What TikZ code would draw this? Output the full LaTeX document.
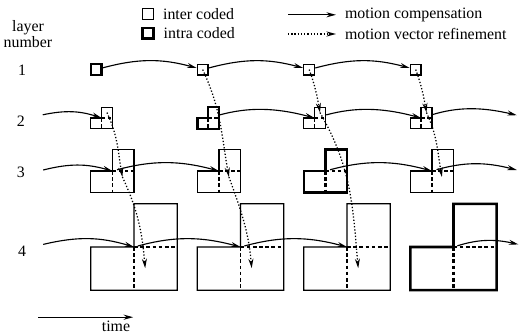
\documentclass[tikz,border=0pt]{standalone}
\usepackage{fontspec}
\setmainfont{Liberation Serif}
\usetikzlibrary{calc, positioning, arrows.meta}

\tikzset{
  block/.style={line width=0.9pt},
  intra/.style={line width=1.8pt},
  quarter/.style={line width=0.9pt, dash pattern=on 2.6pt off 1.8pt},
  sq/.style={draw, line width=0.9pt, minimum size=0.27cm, inner sep=0pt},
  mc/.style={-{Stealth[length=6.8pt,width=3.6pt]}, line width=0.8pt},
  mv/.style={-{Stealth[length=6.8pt,width=3.6pt]}, line width=0.9pt, dash pattern=on 0.9pt off 1.4pt},
  lbl/.style={font=\fontsize{11.3}{12}\selectfont, inner sep=0pt}
}

% L-shaped block: #2 = inner corner, #3 = quarter size
\newcommand{\lblock}[3][]{%
  \draw[block,#1] (#2) ++(-#3,0) -- ++(0,-#3) -- ++(2*#3,0) -- ++(0,2*#3)
    -- ++(-#3,0) -- ++(0,-#3) -- cycle;
  \draw[quarter,#1] (#2) -- ++(0,-#3) (#2) -- ++(#3,0);
}

\begin{document}
\begin{tikzpicture}
\useasboundingbox (0,0) rectangle (13.025,-8.375);

% Legend
\node[sq] (interkey) at (3.7,-0.35) {};
\node[lbl, right=0.22cm of interkey] (intertext) {inter coded};
\node[sq, intra] (intrakey) at (3.7,-0.83) {};
\node[lbl, right=0.22cm of intrakey] (intratext) {intra coded};
\coordinate (mcA) at (7.2,-0.37); \coordinate (mcB) at (8.4,-0.37);
\draw[mc] (mcA) -- (mcB);
\node[lbl, right=0.22cm of mcB] (mctext) {motion compensation};
\coordinate (mvA) at (7.2,-0.85); \coordinate (mvB) at (8.4,-0.85);
\draw[mv] (mvA) -- (mvB);
\node[lbl, right=0.22cm of mvB] (mvtext) {motion vector refinement};

% Layer numbers
\node[lbl, align=center, font=\fontsize{11.3}{8.8}\selectfont] (layerlbl) at (0.7,-0.85) {layer\\number};
\node[lbl] (n1) at (0.55,-1.75) {1};
\node[lbl] (n2) at (0.52,-3.03) {2};
\node[lbl] (n3) at (0.52,-4.30) {3};
\node[lbl] (n4) at (0.55,-6.27) {4};

% Layer 1
\node[sq, intra] (l1c1) at (2.405,-1.74) {};
\node[sq] (l1c2) at (5.0675,-1.74) {};
\node[sq] (l1c3) at (7.73,-1.74) {};
\node[sq] (l1c4) at (10.3925,-1.74) {};

% Layer 2 (inner corners)
\coordinate (l2c1) at (2.54,-2.95);
\coordinate (l2c2) at (5.2025,-2.95);
\coordinate (l2c3) at (7.865,-2.95);
\coordinate (l2c4) at (10.5275,-2.95);
\lblock{l2c1}{0.27}
\lblock[intra]{l2c2}{0.27}
\lblock{l2c3}{0.27}
\lblock{l2c4}{0.27}

% Layer 3
\coordinate (l3c1) at (2.81,-4.275);
\coordinate (l3c2) at (5.4725,-4.275);
\coordinate (l3c3) at (8.135,-4.275);
\coordinate (l3c4) at (10.7975,-4.275);
\lblock{l3c1}{0.54}
\lblock{l3c2}{0.54}
\lblock[intra]{l3c3}{0.54}
\lblock{l3c4}{0.54}

% Layer 4
\coordinate (l4c1) at (3.35,-6.175);
\coordinate (l4c2) at (6.0125,-6.175);
\coordinate (l4c3) at (8.675,-6.175);
\coordinate (l4c4) at (11.3375,-6.175);
\lblock{l4c1}{1.08}
\lblock{l4c2}{1.08}
\lblock{l4c3}{1.08}
\lblock[intra]{l4c4}{1.08}

% Motion compensation
\draw[mc] (l1c1) to[bend left=15] (l1c2);
\draw[mc] (l1c2) to[bend left=15] (l1c3);
\draw[mc] (l1c3) to[bend left=15] (l1c4);

\coordinate (in2) at (1.07,-2.87);
\coordinate (out2) at (12.92,-2.88);
\draw[mc] (in2) to[bend left=15] (l2c1);
\draw[mc, shorten <=0.3cm] (l2c2) to[bend left=15] (l2c3);
\draw[mc, shorten <=0.3cm] (l2c3) to[bend left=15] (l2c4);
\draw[mc, shorten <=0.3cm] (l2c4) to[bend left=15] (out2);

\coordinate (in3) at (1.08,-4.25);
\coordinate (out3) at (12.92,-4.25);
\draw[mc] (in3) to[bend left=15] (l3c1);
\draw[mc, shorten <=0.12cm] (l3c1) to[bend left=15] (l3c2);
\draw[mc, shorten <=0.12cm] (l3c3) to[bend left=15] (l3c4);
\draw[mc, shorten <=0.12cm] (l3c4) to[bend left=15] (out3);

\coordinate (in4) at (1.08,-6.11);
\coordinate (out4) at (12.96,-6.11);
\draw[mc] (in4) to[bend left=15] (l4c1);
\draw[mc, shorten <=0.1cm] (l4c1) to[bend left=15] (l4c2);
\draw[mc, shorten <=0.1cm] (l4c2) to[bend left=15] (l4c3);
\draw[mc, shorten <=0.1cm] (l4c4) to[bend left=15] (out4);

% Motion vector refinement
\coordinate (v2c1) at ($(l2c1)+(0.135,0.135)$);
\coordinate (v2c3) at ($(l2c3)+(0.135,0.135)$);
\coordinate (v2c4) at ($(l2c4)+(0.135,0.135)$);
\coordinate (v3c1) at ($(l3c1)+(0.25,-0.15)$);
\coordinate (v3c2) at ($(l3c2)+(0.25,-0.15)$);
\coordinate (v3c4) at ($(l3c4)+(0.25,-0.15)$);
\coordinate (v4c1) at ($(l4c1)+(0.28,-0.53)$);
\coordinate (v4c2) at ($(l4c2)+(0.28,-0.53)$);
\coordinate (v4c3) at ($(l4c3)+(0.28,-0.53)$);

\draw[mv] (v2c1) to[out=-65,in=100] (v3c1);
\draw[mv] (v3c1) to[out=-65,in=95] (v4c1);
\draw[mv] (l1c2.center) to[out=-65,in=100] (v3c2);
\draw[mv] (v3c2) to[out=-70,in=95] (v4c2);
\draw[mv] (l1c3.center) to[out=-70,in=100] (v2c3);
\draw[mv] (v2c3) to[out=-60,in=95] (v4c3);
\draw[mv] (l1c4.center) to[out=-70,in=100] (v2c4);
\draw[mv] (v2c4) to[out=-65,in=100] (v3c4);

% Time axis
\coordinate (t0) at (0.96,-7.93);
\coordinate (t1) at (3.33,-7.93);
\draw[mc, line width=1pt] (t0) -- (t1);
\node[lbl] (timelbl) at (2.9,-8.15) {time};
\end{tikzpicture}
\end{document}
